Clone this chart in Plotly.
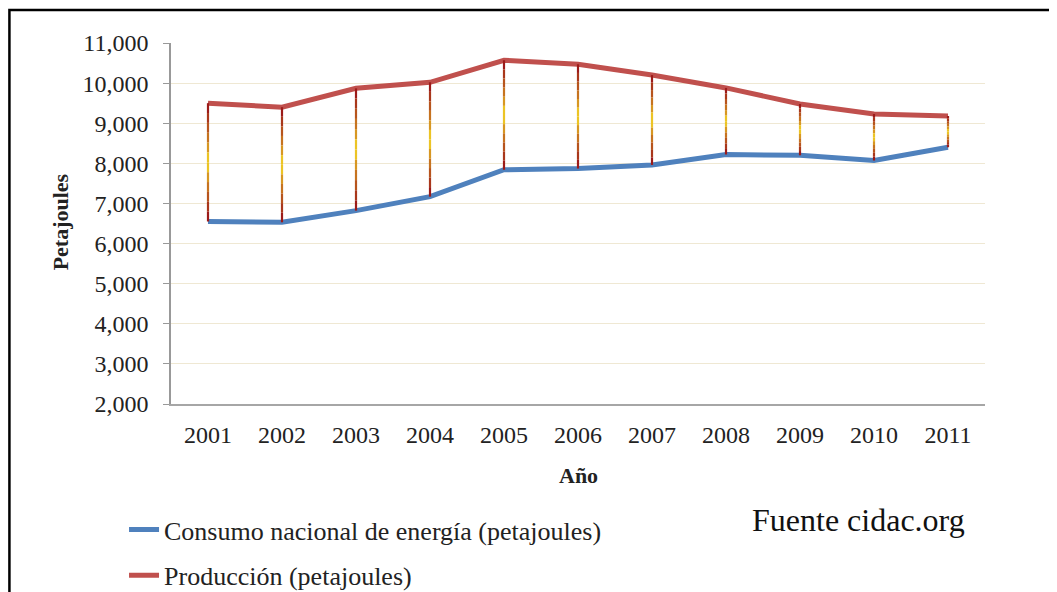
import plotly.graph_objects as go

years = ["2001", "2002", "2003", "2004", "2005", "2006", "2007", "2008", "2009", "2010", "2011"]
consumo = [6550, 6530, 6820, 7170, 7840, 7870, 7960, 8220, 8200, 8070, 8400]
produccion = [9500, 9400, 9870, 10020, 10570, 10470, 10200, 9880, 9480, 9230, 9180]

SERIF = "Liberation Serif"

fig = go.Figure()

fig.add_trace(go.Scatter(
    x=years, y=consumo, mode="lines", name="Consumo nacional de energía (petajoules)",
    line=dict(color="#4F81BD", width=5), legendgroup="a"))
fig.add_trace(go.Scatter(
    x=years, y=produccion, mode="lines", name="Producción (petajoules)",
    line=dict(color="#C0504D", width=5), legendgroup="b"))

# high-low drop lines with red-yellow-red gradient (split into bands)
N = 12
dark = (150, 15, 25)
yel = (255, 235, 40)
for k in range(N):
    s = (k + 0.5) / N
    t = abs(2 * s - 1) ** 0.7
    col = tuple(int(yel[j] + (dark[j] - yel[j]) * t) for j in range(3))
    xs, ys = [], []
    for yr, p, c in zip(years, produccion, consumo):
        xs += [yr, yr, None]
        ys += [p - (p - c) * k / N, p - (p - c) * (k + 1) / N, None]
    fig.add_trace(go.Scatter(
        x=xs, y=ys, mode="lines", showlegend=False, hoverinfo="skip",
        line=dict(color="rgb(%d,%d,%d)" % col, width=2.2)))

fig.update_layout(
    width=1057, height=592,
    margin=dict(l=163, r=80, t=35, b=196, autoexpand=False),
    paper_bgcolor="white", plot_bgcolor="white",
    font=dict(family=SERIF, color="#222222"),
    showlegend=True,
    legend=dict(
        x=-0.0577, xanchor="left", yref="container", y=0.08, yanchor="middle",
        font=dict(family=SERIF, size=26, color="#222222"),
        tracegroupgap=9, itemwidth=30, bgcolor="rgba(0,0,0,0)"),
    xaxis=dict(
        type="category", range=[-0.5, 10.5], showgrid=False,
        showline=True, linecolor="#a6a6a6", linewidth=2,
        ticks="", ticklabelstandoff=8,
        tickfont=dict(family=SERIF, size=24, color="#222222"),
        fixedrange=True),
    yaxis=dict(
        range=[2000, 11000], tickvals=list(range(2000, 11001, 1000)),
        tickformat=",", showgrid=True, gridcolor="#efe8d3", gridwidth=1,
        showline=True, linecolor="#999999", linewidth=1.5,
        ticks="outside", ticklen=6, tickcolor="#999999",
        ticklabelstandoff=10,
        tickfont=dict(family=SERIF, size=24, color="#222222"),
        zeroline=False),
    shapes=[dict(type="rect", xref="paper", yref="paper",
                 x0=-0.1985, y0=-1.0, x1=1.3, y1=1.0914,
                 line=dict(color="black", width=2.5), layer="above")],
    annotations=[
        dict(text="<b>Año</b>", xref="paper", yref="paper", x=0.5, y=-0.197,
             xanchor="center", yanchor="middle",
             showarrow=False, font=dict(family=SERIF, size=22, color="#222222")),
        dict(text="<b>Petajoules</b>", xref="paper", yref="paper", x=-0.136, y=0.504,
             xanchor="center", yanchor="middle",
             textangle=-90, showarrow=False,
             font=dict(family=SERIF, size=22, color="#222222")),
        dict(text="Fuente cidac.org", xref="paper", yref="paper", x=0.845, y=-0.321,
             xanchor="center", yanchor="middle",
             showarrow=False, font=dict(family=SERIF, size=32, color="#111111")),
    ],
)

fig.write_html("out.html")
